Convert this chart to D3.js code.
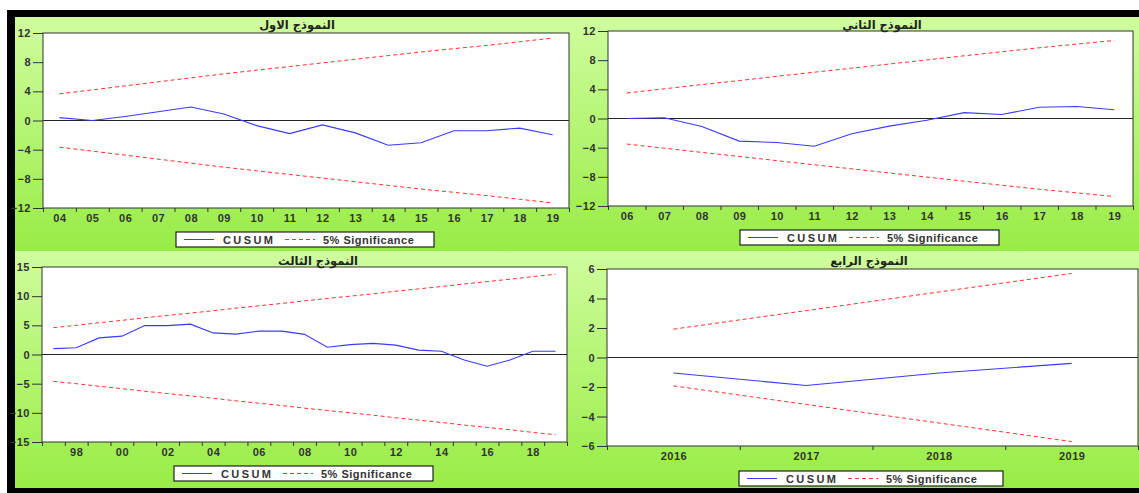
<!DOCTYPE html>
<html>
<head>
<meta charset="utf-8">
<script src="https://cdn.jsdelivr.net/npm/d3@7"></script>
<style>
  html, body { margin: 0; padding: 0; background: #ffffff; }
  svg { display: block; }
  .tick text { font-family: "Liberation Sans", Arial, sans-serif; font-weight: bold; font-size: 11px; fill: #333; letter-spacing: 0.5px; }
  .title { font-family: "DejaVu Sans", sans-serif; font-size: 11.5px; fill: #222; }
  .leg { font-family: "Liberation Sans", Arial, sans-serif; font-weight: bold; font-size: 11px; fill: #333; }
</style>
</head>
<body>
<script>
// ---- Model 1 (2004–2019) ----
const m1Years = [2004, 2005, 2006, 2007, 2008, 2009, 2010, 2011, 2012, 2013, 2014, 2015, 2016, 2017, 2018, 2019];
const m1Cusum = [0.4, 0.0, 0.55, 1.2, 1.85, 0.9, -0.7, -1.8, -0.6, -1.7, -3.4, -3.05, -1.4, -1.4, -1.05, -1.95];
const m1Upper = [3.65, 4.2, 4.75, 5.3, 5.85, 6.4, 6.9, 7.4, 7.9, 8.4, 8.9, 9.4, 9.85, 10.3, 10.8, 11.3];
const m1Lower = [-3.65, -4.2, -4.75, -5.3, -5.85, -6.4, -6.9, -7.4, -7.9, -8.4, -8.9, -9.4, -9.85, -10.3, -10.8, -11.3];
const m1YTicks = [-12, -8, -4, 0, 4, 8, 12];
const m1XLabels = ["04", "05", "06", "07", "08", "09", "10", "11", "12", "13", "14", "15", "16", "17", "18", "19"];

// ---- Model 2 (2006–2019) ----
const m2Years = [2006, 2007, 2008, 2009, 2010, 2011, 2012, 2013, 2014, 2015, 2016, 2017, 2018, 2019];
const m2Cusum = [0.0, 0.1, -1.1, -3.1, -3.3, -3.8, -2.1, -1.05, -0.25, 0.8, 0.55, 1.55, 1.65, 1.2];
const m2Upper = [3.5, 4.07, 4.65, 5.2, 5.78, 6.35, 6.9, 7.47, 8.03, 8.6, 9.15, 9.7, 10.2, 10.7];
const m2Lower = [-3.5, -4.07, -4.65, -5.2, -5.78, -6.35, -6.9, -7.47, -8.03, -8.6, -9.15, -9.7, -10.2, -10.7];
const m2YTicks = [-12, -8, -4, 0, 4, 8, 12];
const m2XLabels = ["06", "07", "08", "09", "10", "11", "12", "13", "14", "15", "16", "17", "18", "19"];

// ---- Model 3 (1997–2019) ----
const m3Years = [1997, 1998, 1999, 2000, 2001, 2002, 2003, 2004, 2005, 2006, 2007, 2008, 2009, 2010, 2011, 2012, 2013, 2014, 2015, 2016, 2017, 2018, 2019];
const m3Cusum = [1.0, 1.15, 2.85, 3.15, 4.95, 4.95, 5.2, 3.7, 3.5, 4.0, 4.0, 3.45, 1.25, 1.7, 1.9, 1.6, 0.75, 0.55, -0.95, -2.0, -0.95, 0.55, 0.55];
const m3Upper = [4.6, 5.0, 5.45, 5.85, 6.3, 6.7, 7.1, 7.5, 7.95, 8.35, 8.75, 9.2, 9.6, 10.0, 10.4, 10.85, 11.25, 11.65, 12.1, 12.5, 12.9, 13.35, 13.75];
const m3Lower = [-4.6, -5.0, -5.45, -5.85, -6.3, -6.7, -7.1, -7.5, -7.95, -8.35, -8.75, -9.2, -9.6, -10.0, -10.4, -10.85, -11.25, -11.65, -12.1, -12.5, -12.9, -13.35, -13.75];
const m3YTicks = [-15, -10, -5, 0, 5, 10, 15];
const m3XLabels = ["", "98", "", "00", "", "02", "", "04", "", "06", "", "08", "", "10", "", "12", "", "14", "", "16", "", "18", ""];

// ---- Model 4 (2016–2019) ----
const m4Years = [2016, 2017, 2018, 2019];
const m4Cusum = [-1.05, -1.9, -1.05, -0.4];
const m4Upper = [1.92, 3.18, 4.44, 5.7];
const m4Lower = [-1.92, -3.18, -4.44, -5.7];
const m4YTicks = [-6, -4, -2, 0, 2, 4, 6];
const m4XLabels = ["2016", "2017", "2018", "2019"];

const titles = ["النموذج الاول", "النموذج الثاني", "النموذج الثالث", "النموذج الرابع"];
const legendNames = ["CUSUM", "5% Significance"];

// Layout of the four panels (frame box, plot area, title and legend placement)
const panels = [
  { years: m1Years, cusum: m1Cusum, upper: m1Upper, lower: m1Lower, yTicks: m1YTicks, xLabels: m1XLabels,
    bg: [15, 17, 577, 251], plot: [43, 33, 569, 208], titleX: 297, titleY: 29, legend: [176, 232, 258, 15], title: titles[0] },
  { years: m2Years, cusum: m2Cusum, upper: m2Upper, lower: m2Lower, yTicks: m2YTicks, xLabels: m2XLabels,
    bg: [577, 17, 1139, 251], plot: [608, 31, 1133, 206], titleX: 882, titleY: 29, legend: [740, 230, 259, 15], title: titles[1] },
  { years: m3Years, cusum: m3Cusum, upper: m3Upper, lower: m3Lower, yTicks: m3YTicks, xLabels: m3XLabels,
    bg: [15, 251, 577, 488], plot: [42, 267, 567, 442], titleX: 318, titleY: 265, legend: [174, 466, 259, 15], title: titles[2] },
  { years: m4Years, cusum: m4Cusum, upper: m4Upper, lower: m4Lower, yTicks: m4YTicks, xLabels: m4XLabels,
    bg: [577, 251, 1139, 488], plot: [607, 269, 1138, 446], titleX: 869, titleY: 265, legend: [739, 471, 264, 15], title: titles[3] }
];

const W = 1139, H = 493;
const svg = d3.select("body").append("svg").attr("width", W).attr("height", H);

const defs = svg.append("defs");
const grad = defs.append("linearGradient").attr("id", "panelBg").attr("x1", 0).attr("y1", 0).attr("x2", 0).attr("y2", 1);
grad.append("stop").attr("offset", "0%").attr("stop-color", "#cffd9e");
grad.append("stop").attr("offset", "100%").attr("stop-color", "#98ec46");

// outer black frame
svg.append("rect").attr("x", 7).attr("y", 10).attr("width", W - 7).attr("height", H - 10).attr("fill", "#000");

const blue = "#3a3aff", red = "#ff3030";

panels.forEach(p => {
  const g = svg.append("g");
  const [bx0, by0, bx1, by1] = p.bg;
  g.append("rect").attr("x", bx0).attr("y", by0).attr("width", bx1 - bx0).attr("height", by1 - by0)
    .attr("fill", "url(#panelBg)");

  const [px0, py0, px1, py1] = p.plot;
  const first = p.years[0], last = p.years[p.years.length - 1];
  const x = d3.scaleLinear().domain([first - 0.5, last + 0.5]).range([px0, px1]);
  const ext = d3.max(p.yTicks);
  const y = d3.scaleLinear().domain([-ext, ext]).range([py1, py0]);

  g.append("rect").attr("x", px0).attr("y", py0).attr("width", px1 - px0).attr("height", py1 - py0)
    .attr("fill", "#fff");

  // year boundary ticks
  const bounds = p.years.map(v => v - 0.5).concat([last + 0.5]);
  const xt = g.append("g").attr("transform", `translate(0,${py1})`)
    .call(d3.axisBottom(x).tickValues(bounds).tickSize(4).tickFormat(""));
  xt.select(".domain").remove();
  xt.selectAll("line").attr("stroke", "#333");

  // year labels centred in each period
  const xl = g.append("g").attr("transform", `translate(0,${py1})`)
    .call(d3.axisBottom(x).tickValues(p.years).tickSize(0).tickPadding(6)
      .tickFormat((d, i) => p.xLabels[i]));
  xl.select(".domain").remove();

  const ya = g.append("g").attr("transform", `translate(${px0},0)`)
    .call(d3.axisLeft(y).tickValues(p.yTicks).tickSize(10).tickPadding(2).tickFormat(d3.format("d")));
  ya.select(".domain").remove();
  ya.selectAll("line").attr("stroke", "#333");

  // zero reference line
  g.append("line").attr("x1", px0).attr("x2", px1).attr("y1", y(0)).attr("y2", y(0))
    .attr("stroke", "#222").attr("stroke-width", 1);

  const line = d3.line().x((d, i) => x(p.years[i])).y(d => y(d));
  g.append("path").datum(p.upper).attr("d", line).attr("fill", "none")
    .attr("stroke", red).attr("stroke-width", 1).attr("stroke-dasharray", "4,3");
  g.append("path").datum(p.lower).attr("d", line).attr("fill", "none")
    .attr("stroke", red).attr("stroke-width", 1).attr("stroke-dasharray", "4,3");
  g.append("path").datum(p.cusum).attr("d", line).attr("fill", "none")
    .attr("stroke", blue).attr("stroke-width", 1.1);

  // plot frame
  g.append("rect").attr("x", px0).attr("y", py0).attr("width", px1 - px0).attr("height", py1 - py0)
    .attr("fill", "none").attr("stroke", "#333").attr("stroke-width", 1);

  g.append("text").attr("class", "title").attr("x", p.titleX).attr("y", p.titleY)
    .attr("text-anchor", "middle").attr("direction", "rtl").style("font-weight", "bold").text(p.title);

  // legend
  const [lx, ly, lw, lh] = p.legend;
  const lg = g.append("g").attr("transform", `translate(${lx},${ly})`);
  lg.append("rect").attr("width", lw).attr("height", lh).attr("fill", "#fff")
    .attr("stroke", "#222").attr("stroke-width", 1.2);
  const cy = lh / 2;
  lg.append("line").attr("x1", 8).attr("x2", 38).attr("y1", cy).attr("y2", cy).attr("stroke", blue);
  lg.append("text").attr("class", "leg").attr("x", 47).attr("y", cy + 4).style("letter-spacing", "2.4px").text(legendNames[0]);
  lg.append("line").attr("x1", 109).attr("x2", 139).attr("y1", cy).attr("y2", cy)
    .attr("stroke", red).attr("stroke-dasharray", "4,3");
  lg.append("text").attr("class", "leg").attr("x", 147).attr("y", cy + 4).style("letter-spacing", "0.5px").text(legendNames[1]);
});
</script>
</body>
</html>
